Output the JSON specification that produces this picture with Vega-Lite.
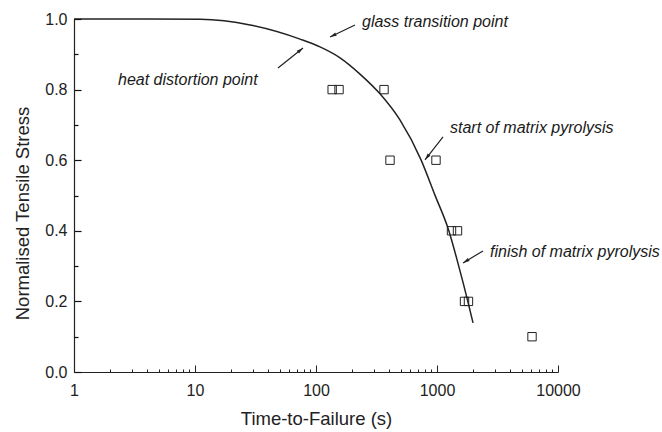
{
  "$schema": "https://vega.github.io/schema/vega-lite/v6.json",
  "width": 484,
  "height": 353,
  "autosize": "none",
  "padding": {"left": 74, "top": 19, "right": 104, "bottom": 60},
  "background": "white",
  "config": {
    "view": {"stroke": null},
    "font": "Liberation Sans",
    "axis": {
      "domainColor": "#222",
      "domainWidth": 1.2,
      "tickColor": "#222",
      "tickWidth": 1,
      "tickOpacity": 1,
      "labelColor": "#222",
      "titleColor": "#222",
      "labelFont": "Liberation Sans",
      "titleFont": "Liberation Sans",
      "labelFontSize": 16,
      "titleFontSize": 18.5,
      "titleFontWeight": "normal",
      "grid": false
    }
  },
  "datasets": {
    "curve": [
      {"t": 1, "s": 1.0},
      {"t": 4.25, "s": 1.0},
      {"t": 11, "s": 0.999},
      {"t": 28.5, "s": 0.983},
      {"t": 73.8, "s": 0.943},
      {"t": 108, "s": 0.921},
      {"t": 158, "s": 0.89},
      {"t": 231, "s": 0.844},
      {"t": 338, "s": 0.788},
      {"t": 494, "s": 0.714},
      {"t": 738, "s": 0.601},
      {"t": 962, "s": 0.501},
      {"t": 1256, "s": 0.399},
      {"t": 1520, "s": 0.297},
      {"t": 1804, "s": 0.198},
      {"t": 1985, "s": 0.139}
    ],
    "points": [
      {"t": 136, "s": 0.8},
      {"t": 155, "s": 0.8},
      {"t": 365, "s": 0.8},
      {"t": 409, "s": 0.6},
      {"t": 981, "s": 0.6},
      {"t": 1318, "s": 0.4},
      {"t": 1477, "s": 0.4},
      {"t": 1688, "s": 0.2},
      {"t": 1820, "s": 0.2},
      {"t": 6100, "s": 0.1}
    ],
    "notes": [
      {"label": "glass transition point", "t": 240, "s": 0.991},
      {"label": "heat distortion point", "t": 2.31, "s": 0.827},
      {"label": "start of matrix pyrolysis", "t": 1280, "s": 0.691},
      {"label": "finish of matrix pyrolysis", "t": 2742, "s": 0.34}
    ],
    "arrows": [
      {"label": "glass", "t1": 210, "s1": 0.983, "t2": 130.6, "s2": 0.949},
      {"label": "heat", "t1": 48.5, "s1": 0.861, "t2": 78.1, "s2": 0.918},
      {"label": "start", "t1": 1122, "s1": 0.666, "t2": 796, "s2": 0.601},
      {"label": "finish", "t1": 2399, "s1": 0.343, "t2": 1641, "s2": 0.309}
    ]
  },
  "resolve": {"axis": {"x": "independent", "y": "independent"}},
  "layer": [
    {
      "data": {"name": "curve"},
      "mark": {"type": "line", "color": "#222", "strokeWidth": 1.5, "interpolate": "monotone"},
      "encoding": {
        "x": {
          "field": "t", "type": "quantitative",
          "scale": {"type": "log", "domain": [1, 10000], "nice": false},
          "axis": {
            "orient": "bottom",
            "title": "Time-to-Failure (s)",
            "values": [1, 10, 100, 1000, 10000],
            "format": "d",
            "ticks": true,
            "tickSize": -7,
            "labelPadding": 17,
            "labelFlush": false,
            "labelOverlap": false,
            "titlePadding": 11
          }
        },
        "y": {
          "field": "s", "type": "quantitative",
          "scale": {"domain": [0, 1], "nice": false, "zero": true},
          "axis": {
            "orient": "left",
            "title": "Normalised Tensile Stress",
            "values": [0, 0.2, 0.4, 0.6, 0.8, 1.0],
            "format": ".1f",
            "ticks": true,
            "tickSize": -7,
            "tickWidth": 1.2,
            "tickColor": "#111",
            "labelPadding": 14,
            "labelOverlap": false,
            "titlePadding": 12,
            "titleY": 194,
            "zindex": 1
          }
        }
      }
    },
    {
      "data": {"name": "points"},
      "mark": {"type": "point", "shape": "square", "filled": false, "color": "#222", "strokeWidth": 1, "size": 70, "opacity": 1},
      "encoding": {
        "x": {
          "field": "t", "type": "quantitative",
          "axis": {
            "orient": "bottom",
            "title": null,
            "labels": false,
            "domain": false,
            "ticks": true,
            "tickSize": -3,
            "values": [2,3,4,5,6,7,8,9,20,30,40,50,60,70,80,90,200,300,400,500,600,700,800,900,2000,3000,4000,5000,6000,7000,8000,9000]
          }
        },
        "y": {
          "field": "s", "type": "quantitative",
          "axis": {
            "orient": "left",
            "title": null,
            "labels": false,
            "domain": false,
            "ticks": true,
            "tickSize": -4,
            "tickWidth": 1.2,
            "tickColor": "#111",
            "zindex": 1,
            "values": [0.1, 0.3, 0.5, 0.7, 0.9]
          }
        }
      }
    },
    {
      "data": {"name": "notes"},
      "mark": {"type": "text", "align": "left", "baseline": "middle", "fontStyle": "italic", "fontSize": 16, "color": "#1a1a1a", "font": "Liberation Sans"},
      "encoding": {
        "x": {"field": "t", "type": "quantitative", "axis": null},
        "y": {"field": "s", "type": "quantitative", "axis": null},
        "text": {"field": "label"}
      }
    },
    {
      "data": {"name": "arrows"},
      "mark": {"type": "rule", "color": "#222", "strokeWidth": 1.2},
      "encoding": {
        "x": {"field": "t1", "type": "quantitative", "axis": null},
        "y": {"field": "s1", "type": "quantitative", "axis": null},
        "x2": {"field": "t2"},
        "y2": {"field": "s2"}
      }
    },
    {
      "data": {"name": "arrows"},
      "transform": [{"filter": "datum.label == 'glass'"}],
      "mark": {"type": "point", "shape": "M0,0L0.6,2.2L-0.6,2.2Z", "filled": true, "color": "#222", "opacity": 1, "size": 36, "angle": 244},
      "encoding": {"x": {"field": "t2", "type": "quantitative", "axis": null}, "y": {"field": "s2", "type": "quantitative", "axis": null}}
    },
    {
      "data": {"name": "arrows"},
      "transform": [{"filter": "datum.label == 'heat'"}],
      "mark": {"type": "point", "shape": "M0,0L0.6,2.2L-0.6,2.2Z", "filled": true, "color": "#222", "opacity": 1, "size": 36, "angle": 51},
      "encoding": {"x": {"field": "t2", "type": "quantitative", "axis": null}, "y": {"field": "s2", "type": "quantitative", "axis": null}}
    },
    {
      "data": {"name": "arrows"},
      "transform": [{"filter": "datum.label == 'start'"}],
      "mark": {"type": "point", "shape": "M0,0L0.6,2.2L-0.6,2.2Z", "filled": true, "color": "#222", "opacity": 1, "size": 36, "angle": 218},
      "encoding": {"x": {"field": "t2", "type": "quantitative", "axis": null}, "y": {"field": "s2", "type": "quantitative", "axis": null}}
    },
    {
      "data": {"name": "arrows"},
      "transform": [{"filter": "datum.label == 'finish'"}],
      "mark": {"type": "point", "shape": "M0,0L0.6,2.2L-0.6,2.2Z", "filled": true, "color": "#222", "opacity": 1, "size": 36, "angle": 239},
      "encoding": {"x": {"field": "t2", "type": "quantitative", "axis": null}, "y": {"field": "s2", "type": "quantitative", "axis": null}}
    }
  ]
}
